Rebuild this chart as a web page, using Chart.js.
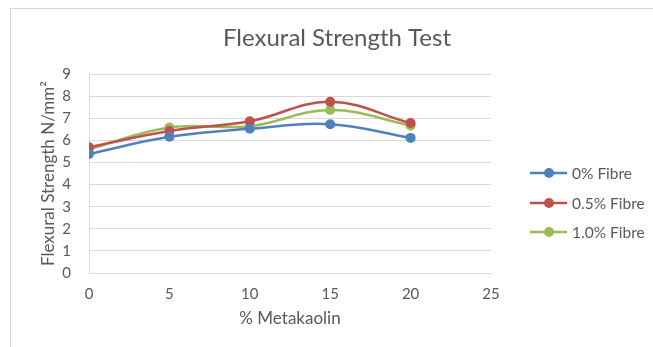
<!DOCTYPE html>
<html><head><meta charset="utf-8">
<script src="https://cdn.jsdelivr.net/npm/chart.js@4"></script>
<style>
html,body{margin:0;padding:0;background:#fff;overflow:hidden}
#wrap{position:absolute;left:0;top:0;width:653px;height:347px}
#frame{position:absolute;left:10px;top:8px;width:660px;height:360px;border:1px solid #d9d9d9;box-sizing:border-box}
canvas{position:absolute;left:0;top:0}
</style></head>
<body>
<div id="wrap"><div id="frame"></div><canvas id="c" width="653" height="347"></canvas></div>
<script>
const metakaolin = [0, 5, 10, 15, 20];
const fibre0 = [5.38, 6.16, 6.52, 6.73, 6.11];
const fibre05 = [5.69, 6.42, 6.86, 7.74, 6.78];
const fibre10 = [5.60, 6.58, 6.64, 7.37, 6.67];
const seriesNames = ['0% Fibre', '0.5% Fibre', '1.0% Fibre'];
const seriesColors = ['#4F81BD', '#C0504D', '#9BBB59'];
const yTicks = [0,1,2,3,4,5,6,7,8,9];
const xTicks = [0,5,10,15,20,25];
const chartTitle = 'Flexural Strength Test';

const FONT = 'Lato, "Open Sans", sans-serif';
const TXT = '#595959';

function mk(vals){ return metakaolin.map((x,i)=>({x:x,y:vals[i]})); }
const allVals = [fibre0, fibre05, fibre10];
const datasets = allVals.map((v,i)=>({
  label: seriesNames[i], data: mk(v),
  borderColor: seriesColors[i], backgroundColor: seriesColors[i],
  borderWidth: 2.5, pointRadius: 5, pointHoverRadius: 5,
  pointBorderWidth: 0, tension: 0.4, fill: false
}));

const decorPlugin = {
  id: 'decor',
  afterDraw(chart){
    const ctx = chart.ctx;
    ctx.save();
    ctx.fillStyle = TXT; ctx.font = '24px ' + FONT;
    ctx.textAlign = 'center'; ctx.textBaseline = 'middle';
    ctx.fillText(chartTitle, 337, 38);
    const ys = [173, 203, 232];
    seriesNames.forEach((n,i)=>{
      const y = ys[i];
      ctx.strokeStyle = seriesColors[i]; ctx.lineWidth = 2.5;
      ctx.beginPath(); ctx.moveTo(530, y); ctx.lineTo(567, y); ctx.stroke();
      ctx.fillStyle = seriesColors[i];
      ctx.beginPath(); ctx.arc(549, y, 5, 0, Math.PI*2); ctx.fill();
      ctx.fillStyle = TXT; ctx.font = '15.5px ' + FONT;
      ctx.textBaseline = 'middle'; ctx.textAlign = 'left';
      ctx.fillText(n, 572, y + 1);
    });
    ctx.restore();
  }
};

new Chart(document.getElementById('c'), {
  type: 'line',
  data: { datasets },
  options: {
    responsive: false, animation: false,
    layout: { padding: { left: 38, right: 162, top: 74, bottom: 0 } },
    plugins: { legend: { display: false }, tooltip: { enabled: false }, title: { display: false } },
    scales: {
      x: { type: 'linear', min: 0, max: 25,
        afterBuildTicks: s => { s.ticks = xTicks.map(v=>({value:v})); },
        grid: { display: false, drawTicks: false },
        border: { display: true, color: '#d9d9d9', width: 1 },
        ticks: { color: TXT, font: { family: FONT, size: 15 }, padding: 12, maxRotation: 0 },
        title: { display: true, text: '% Metakaolin', color: TXT, font: { family: FONT, size: 17 }, padding: { top: 4, bottom: 18 } },
        afterFit: s => { s.height = 74; }
      },
      y: { min: 0, max: 9,
        afterBuildTicks: s => { s.ticks = yTicks.map(v=>({value:v})); },
        grid: { color: '#d9d9d9', drawTicks: false },
        border: { display: true, color: '#d9d9d9', width: 1 },
        ticks: { color: TXT, font: { family: FONT, size: 15 }, padding: 18 },
        title: { display: true, text: 'Flexural Strength N/mm²', color: TXT, font: { family: FONT, size: 17 }, padding: { top: 0, bottom: 0 } },
        afterFit: s => { s.width = 51; }
      }
    }
  },
  plugins: [decorPlugin]
});
</script>
</body></html>
